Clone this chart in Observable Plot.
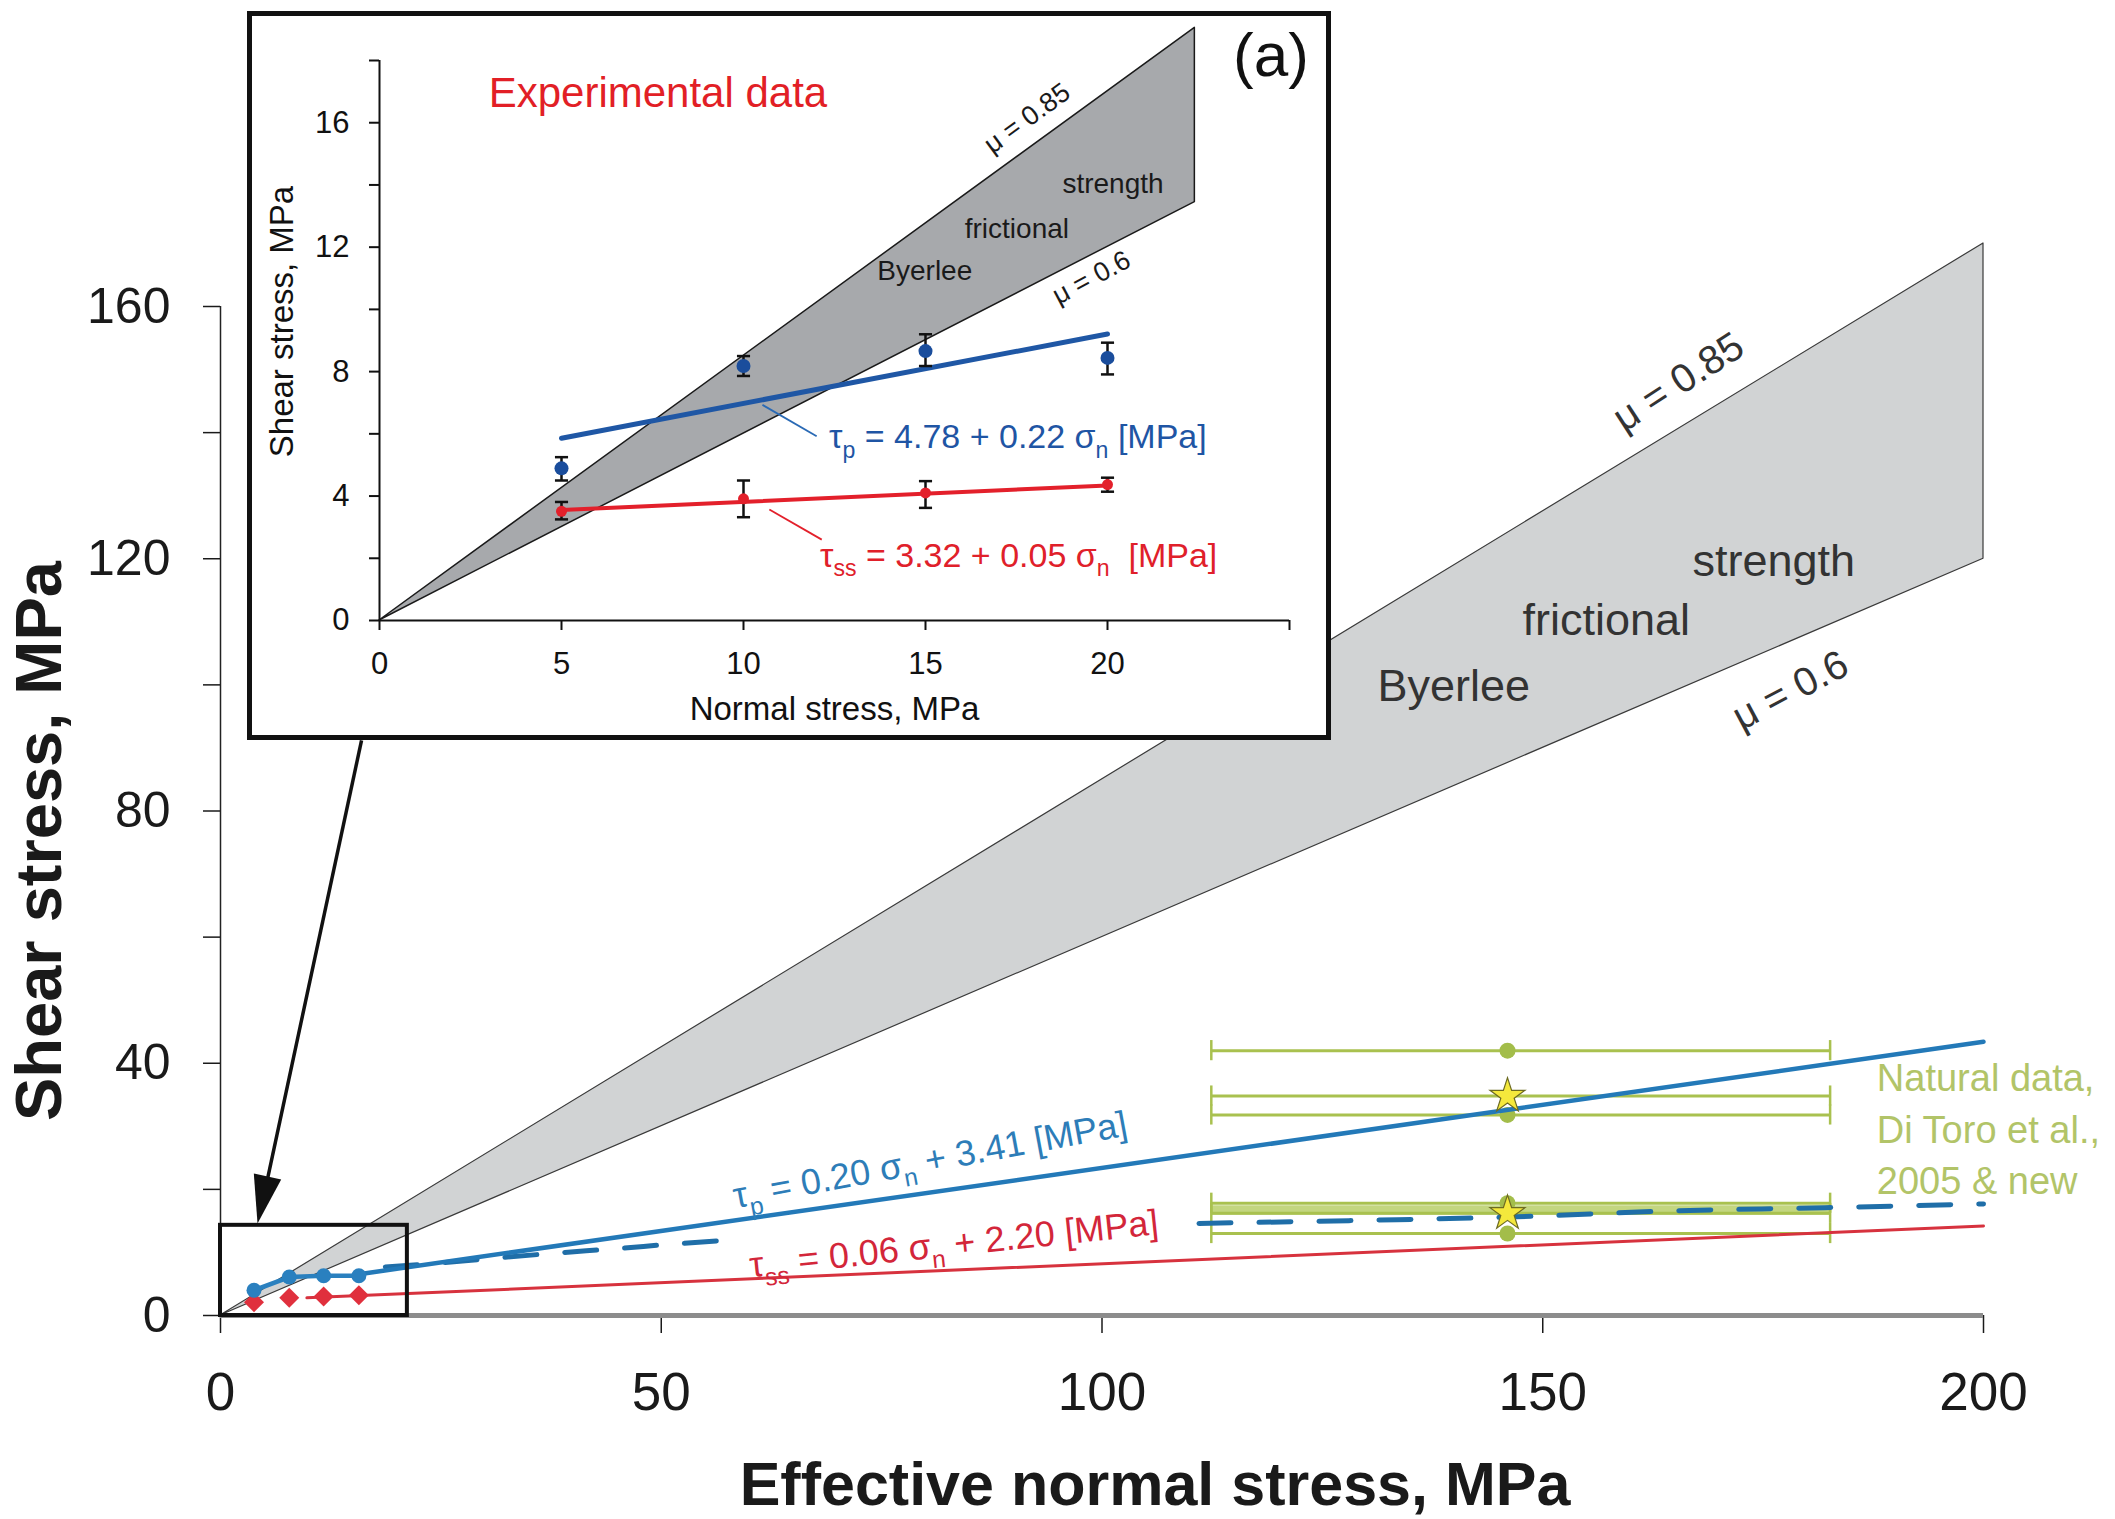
<!DOCTYPE html>
<html><head><meta charset="utf-8">
<script src="https://cdn.jsdelivr.net/npm/d3@7"></script>
<script src="https://cdn.jsdelivr.net/npm/@observablehq/plot@0.6"></script>
<style>
html,body{margin:0;padding:0;background:#fff;}
#wrap{position:relative;width:2115px;height:1519px;overflow:hidden;}
#main{position:absolute;left:0;top:0;}
#inset{position:absolute;left:246.5px;top:10.5px;width:1084px;height:729px;border:5px solid #111;box-sizing:border-box;background:#fff;}
svg{display:block;}
</style></head><body><div id="wrap"><div id="main"></div><div id="inset"></div></div>
<script>
// ---------- Main panel data ----------
const byerleeX = [0, 200];
const byerleeLow = [0, 120];   // mu = 0.6
const byerleeHigh = [0, 170];  // mu = 0.85
const labX = [3.8, 7.8, 11.7, 15.7];
const labPeak = [4.0, 6.1, 6.3, 6.3];
const labSteady = [2.1, 2.8, 3.0, 3.2];
const peakFitX = [15.7, 200];
const peakFitY = [6.55, 43.4];
const ssFitX = [9.8, 200];
const ssFitY = [2.8, 14.2];
const dashAX = [18.7, 23.8, 30.3, 37.2, 44.8, 52, 58];
const dashAY = [7.7, 8.2, 9.0, 9.8, 10.6, 11.4, 12.0];
const dashBX = [111, 130, 146, 165, 182, 200];
const dashBY = [14.6, 15.1, 15.6, 16.6, 17.1, 17.7];
const natCenter = [146, 146, 146, 146, 146, 146];
const natLow = [112.4, 112.4, 112.4, 112.4, 112.4, 112.4];
const natHigh = [182.6, 182.6, 182.6, 182.6, 182.6, 182.6];
const natTau = [42.0, 34.8, 31.8, 17.8, 16.2, 13.0];
const natSymbol = ["circle", "star", "circle", "circle", "star", "circle"];
const natBand = [15.9, 17.4];
const zoomBoxX = [0, 21.2];
const zoomBoxY = [0, 14.3];
const xTicks = [0, 50, 100, 150, 200];
const yTicks = [0, 20, 40, 60, 80, 100, 120, 140, 160];

// ---------- Inset data ----------
const inByerX = [0, 22.4];
const inByerLow = [0, 13.45];
const inByerHigh = [0, 19.05];
const expX = [5, 10, 15, 20];
const expPeak = [4.89, 8.18, 8.66, 8.44];
const expPeakLo = [4.50, 7.86, 8.18, 7.91];
const expPeakHi = [5.25, 8.50, 9.20, 8.93];
const expSS = [3.51, 3.91, 4.10, 4.37];
const expSSLo = [3.25, 3.32, 3.62, 4.14];
const expSSHi = [3.81, 4.50, 4.48, 4.59];
const inPeakFitX = [5, 20];
const inPeakFitY = [5.86, 9.21];
const inSSFitX = [5, 20];
const inSSFitY = [3.55, 4.34];
const inXTicks = [0, 5, 10, 15, 20, 25];
const inYTicks = [0, 2, 4, 6, 8, 10, 12, 14, 16, 18];

const FONT = '"Liberation Sans", Arial, Helvetica, sans-serif';
const zip = (xs, ys) => xs.map((x, i) => ({x, y: ys[i]}));

// ---------- Main plot ----------
const byer = byerleeX.map((x, i) => ({x, lo: byerleeLow[i], hi: byerleeHigh[i]}));
const nat = natTau.map((t, i) => ({x: natCenter[i], lo: natLow[i], hi: natHigh[i], tau: t, sym: natSymbol[i]}));
const natCaps = nat.flatMap(d => [{x: d.lo, y1: d.tau - 1.6, y2: d.tau + 1.6}, {x: d.hi, y1: d.tau - 1.6, y2: d.tau + 1.6}]);
const arrowHead = {draw(ctx) { ctx.moveTo(0, 0); ctx.lineTo(-14, -48); ctx.lineTo(14, -48); ctx.closePath(); }};

const main = Plot.plot({
  width: 2115, height: 1519,
  marginLeft: 220, marginRight: 132, marginTop: 306, marginBottom: 204,
  x: {domain: [0, 200]}, y: {domain: [0, 160]},
  style: {fontFamily: FONT, background: "#fff", overflow: "visible"},
  marks: [
    Plot.areaY(byer, {x: "x", y1: "lo", y2: "hi", fill: "#d1d3d4", stroke: "#3a3a3a", strokeWidth: 1.2}),
    Plot.axisY({ticks: yTicks, tickSize: 17, tickPadding: 33, fontSize: 50, tickFormat: d => d % 40 === 0 ? d : "", color: "#1a1a1a", strokeWidth: 1.5, label: null}),
    Plot.axisX({ticks: xTicks, tickSize: 18, tickPadding: 39, fontSize: 53, color: "#1a1a1a", strokeWidth: 1.5, label: null}),
    Plot.ruleY([0], {x1: 0, x2: 200, stroke: "#8c8c8c", strokeWidth: 5}),
    Plot.ruleX([0], {y1: 0, y2: 160, stroke: "#222", strokeWidth: 1.5}),
    // natural data
    Plot.rect([{x1: natLow[0], x2: natHigh[0], y1: natBand[0], y2: natBand[1]}], {x1: "x1", x2: "x2", y1: "y1", y2: "y2", fill: "#b9cf6a", fillOpacity: 0.85}),
    Plot.ruleY(nat, {y: "tau", x1: "lo", x2: "hi", stroke: "#a9c14f", strokeWidth: 3}),
    Plot.ruleX(natCaps, {x: "x", y1: "y1", y2: "y2", stroke: "#a9c14f", strokeWidth: 2.5}),
    Plot.dot(nat.filter(d => d.sym === "circle"), {x: "x", y: "tau", r: 8, fill: "#a3bd4a", symbol: "circle"}),
    // fits
    Plot.line(zip(dashAX, dashAY), {x: "x", y: "y", stroke: "#1f6ea8", strokeWidth: 5, strokeDasharray: "32,28", curve: "monotone-x"}),
    Plot.line(zip(dashBX, dashBY), {x: "x", y: "y", stroke: "#1f6ea8", strokeWidth: 5, strokeDasharray: "32,28", curve: "monotone-x"}),
    Plot.line(zip(ssFitX, ssFitY), {x: "x", y: "y", stroke: "#d7323e", strokeWidth: 3}),
    Plot.line(zip(peakFitX, peakFitY), {x: "x", y: "y", stroke: "#2379b8", strokeWidth: 4.5}),
    Plot.line(zip(labX, labPeak), {x: "x", y: "y", stroke: "#2a80bf", strokeWidth: 4.5}),
    Plot.dot(zip(labX, labSteady), {x: "x", y: "y", r: 9, symbol: "diamond2", fill: "#e0303d"}),
    Plot.dot(zip(labX, labPeak), {x: "x", y: "y", r: 7.5, fill: "#2a80bf"}),
    Plot.dot(nat.filter(d => d.sym === "star"), {x: "x", y: "tau", r: 11, symbol: "star", fill: "#f4e83c", stroke: "#6d6b22", strokeWidth: 1.2}),
    // zoom box and arrow
    Plot.rect([{x1: zoomBoxX[0], x2: zoomBoxX[1], y1: zoomBoxY[0], y2: zoomBoxY[1]}], {x1: "x1", x2: "x2", y1: "y1", y2: "y2", fill: "none", stroke: "#111", strokeWidth: 4}),
    Plot.link([{x1: 16.0, y1: 91.2, x2: 5.0, y2: 19.5}], {x1: "x1", y1: "y1", x2: "x2", y2: "y2", stroke: "#111", strokeWidth: 3.5}),
    Plot.dot([{x: 4.2, y: 14.6}], {x: "x", y: "y", r: 10, symbol: arrowHead, rotate: 12, fill: "#111", stroke: "none"}),
    // labels
    Plot.text([
      {x: 176.2, y: 119.5, t: "strength"},
      {x: 157.2, y: 110.2, t: "frictional"},
      {x: 139.9, y: 99.7, t: "Byerlee"}
    ], {x: "x", y: "y", text: "t", fontSize: 45, fill: "#333"}),
    Plot.text([{x: 165.4, y: 148.0, t: "μ = 0.85"}], {x: "x", y: "y", text: "t", fontSize: 40, fill: "#333", rotate: -33}),
    Plot.text([{x: 178.1, y: 99.1, t: "μ = 0.6"}], {x: "x", y: "y", text: "t", fontSize: 40, fill: "#333", rotate: -28}),
    Plot.text([{x: 80.5, y: 24.6, t: "τ_{p} = 0.20 σ_{n} + 3.41 [MPa]"}], {x: "x", y: "y", text: "t", fontSize: 36, fill: "#2d7db8", rotate: -10.5}),
    Plot.text([{x: 83.2, y: 11.3, t: "τ_{ss} = 0.06 σ_{n} + 2.20 [MPa]"}], {x: "x", y: "y", text: "t", fontSize: 36, fill: "#d3263a", rotate: -6}),
    Plot.text([{x: 187.9, y: 41.3, t: "Natural data,\nDi Toro et al.,\n2005 & new"}], {x: "x", y: "y", text: "t", fontSize: 38, fill: "#b2c468", textAnchor: "start", lineAnchor: "top", lineHeight: 1.35}),
    Plot.text(["Shear stress, MPa"], {text: d => d, frameAnchor: "left", textAnchor: "middle", lineAnchor: "middle", dx: -180, dy: 30, rotate: -90, fontSize: 65, fontWeight: "bold", fill: "#1a1a1a"}),
    Plot.text(["Effective normal stress, MPa"], {text: d => d, frameAnchor: "bottom", textAnchor: "middle", lineAnchor: "middle", dx: 53, dy: 170, fontSize: 61, fontWeight: "bold", fill: "#1a1a1a"})
  ]
});
document.getElementById("main").appendChild(main);

// ---------- Inset plot ----------
const inByer = inByerX.map((x, i) => ({x, lo: inByerLow[i], hi: inByerHigh[i]}));
const peaks = expX.map((x, i) => ({x, y: expPeak[i], lo: expPeakLo[i], hi: expPeakHi[i]}));
const sss = expX.map((x, i) => ({x, y: expSS[i], lo: expSSLo[i], hi: expSSHi[i]}));
const errs = peaks.concat(sss);
const caps = errs.flatMap(d => [{x1: d.x - 0.18, x2: d.x + 0.18, y: d.lo}, {x1: d.x - 0.18, x2: d.x + 0.18, y: d.hi}]);

const inset = Plot.plot({
  width: 1074, height: 719,
  marginLeft: 127, marginRight: 37, marginTop: 44, marginBottom: 115,
  x: {domain: [0, 25]}, y: {domain: [0, 18]},
  style: {fontFamily: FONT, background: "#fff", overflow: "visible"},
  marks: [
    Plot.areaY(inByer, {x: "x", y1: "lo", y2: "hi", fill: "#a7a9ac", stroke: "#1a1a1a", strokeWidth: 1.5}),
    Plot.axisY({ticks: inYTicks, tickSize: 10, tickPadding: 20, fontSize: 31, tickFormat: d => d % 4 === 0 && d < 18 ? d : "", color: "#111", strokeWidth: 2, label: null}),
    Plot.axisX({ticks: inXTicks, tickSize: 10, tickPadding: 21, fontSize: 31, tickFormat: d => d === 25 ? "" : d, color: "#111", strokeWidth: 2, label: null}),
    Plot.ruleX([0], {y1: 0, y2: 18, stroke: "#111", strokeWidth: 2}),
    Plot.ruleY([0], {x1: 0, x2: 25, stroke: "#111", strokeWidth: 2}),
    Plot.line(zip(inSSFitX, inSSFitY), {x: "x", y: "y", stroke: "#e3202b", strokeWidth: 4}),
    Plot.line(zip(inPeakFitX, inPeakFitY), {x: "x", y: "y", stroke: "#1f57a5", strokeWidth: 5}),
    Plot.ruleX(errs, {x: "x", y1: "lo", y2: "hi", stroke: "#111", strokeWidth: 2.5}),
    Plot.link(caps, {x1: "x1", x2: "x2", y1: "y", y2: "y", stroke: "#111", strokeWidth: 2.5}),
    Plot.dot(peaks, {x: "x", y: "y", r: 7, fill: "#1a4d9c"}),
    Plot.dot(sss, {x: "x", y: "y", r: 5.5, fill: "#e3202b"}),
    Plot.link([{x1: 10.52, y1: 6.93, x2: 12.01, y2: 5.92}], {x1: "x1", y1: "y1", x2: "x2", y2: "y2", stroke: "#2a6ab5", strokeWidth: 1.8}),
    Plot.link([{x1: 10.71, y1: 3.57, x2: 12.15, y2: 2.60}], {x1: "x1", y1: "y1", x2: "x2", y2: "y2", stroke: "#e3202b", strokeWidth: 1.8}),
    Plot.text([{x: 12.35, y: 5.89, t: "τ_{p} = 4.78 + 0.22 σ_{n} [MPa]"}], {x: "x", y: "y", text: "t", fontSize: 34, fill: "#1f55a4", textAnchor: "start"}),
    Plot.text([{x: 12.1, y: 2.07, t: "τ_{ss} = 3.32 + 0.05 σ_{n}  [MPa]"}], {x: "x", y: "y", text: "t", fontSize: 34, fill: "#e0202a", textAnchor: "start"}),
    Plot.text([{x: 3.0, y: 16.95, t: "Experimental data"}], {x: "x", y: "y", text: "t", fontSize: 42, fill: "#e21f26", textAnchor: "start"}),
    Plot.text([{x: 24.49, y: 18.14, t: "(a)"}], {x: "x", y: "y", text: "t", fontSize: 62, fill: "#111"}),
    Plot.text([
      {x: 20.15, y: 14.03, t: "strength"},
      {x: 17.51, y: 12.58, t: "frictional"},
      {x: 14.98, y: 11.23, t: "Byerlee"}
    ], {x: "x", y: "y", text: "t", fontSize: 28, fill: "#1a1a1a"}),
    Plot.text([{x: 17.79, y: 16.14, t: "μ = 0.85"}], {x: "x", y: "y", text: "t", fontSize: 27, fill: "#1a1a1a", rotate: -36}),
    Plot.text([{x: 19.56, y: 11.02, t: "μ = 0.6"}], {x: "x", y: "y", text: "t", fontSize: 27, fill: "#1a1a1a", rotate: -28}),
    Plot.text(["Normal stress, MPa"], {text: d => d, frameAnchor: "bottom", textAnchor: "middle", lineAnchor: "middle", dy: 89, fontSize: 33, fill: "#111"}),
    Plot.text(["Shear stress, MPa"], {text: d => d, frameAnchor: "left", textAnchor: "middle", lineAnchor: "middle", dx: -97, dy: -19, rotate: -90, fontSize: 33, fill: "#111"})
  ]
});
document.getElementById("inset").appendChild(inset);

// ---------- subscripts: "_{..}" -> lowered smaller tspan ----------
function subscripts(svg) {
  const ns = "http://www.w3.org/2000/svg";
  svg.querySelectorAll("text").forEach(t => {
    const s = t.textContent;
    if (!s.includes("_{") || t.querySelector("tspan")) return;
    const fs = parseFloat(getComputedStyle(t).fontSize) || 30;
    const parts = s.split(/(_\{[^}]*\})/);
    t.textContent = "";
    let shifted = false;
    for (const p of parts) {
      if (!p) continue;
      const ts = document.createElementNS(ns, "tspan");
      if (p.startsWith("_{")) {
        ts.textContent = p.slice(2, -1);
        ts.setAttribute("font-size", (fs * 0.68).toFixed(1));
        ts.setAttribute("dy", (fs * 0.28).toFixed(1));
        shifted = true;
      } else {
        ts.textContent = p;
        if (shifted) { ts.setAttribute("dy", (-fs * 0.28).toFixed(1)); shifted = false; }
      }
      t.appendChild(ts);
    }
  });
}
subscripts(main);
subscripts(inset);
</script></body></html>
